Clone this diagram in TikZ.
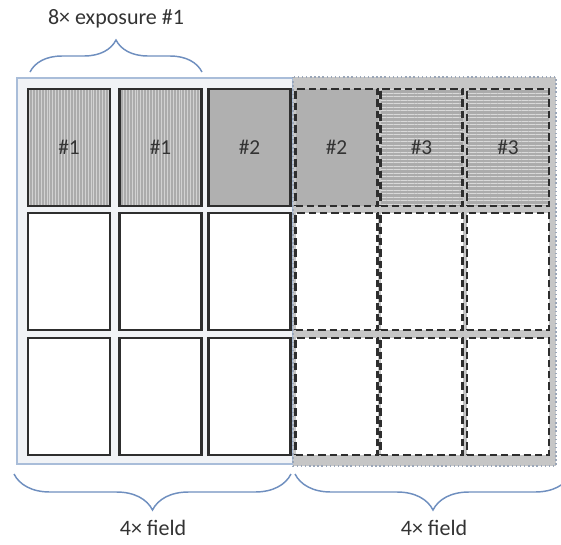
\documentclass[tikz,border=0pt]{standalone}
\usepackage{fontspec}
\setmainfont{Carlito}
\usetikzlibrary{patterns.meta,decorations.pathreplacing}
\definecolor{bracecol}{HTML}{6F8FBF}
\definecolor{fieldA}{HTML}{F1F3F6}
\definecolor{fieldAline}{HTML}{A9BDD9}
\definecolor{fieldB}{HTML}{C6C6C6}
\definecolor{fieldBline}{HTML}{9AA6B8}
\definecolor{cellline}{HTML}{2E2E2E}
\definecolor{txt}{HTML}{333333}
\tikzset{
  cell/.style={draw=cellline, line width=1.7pt, fill=white,
    minimum width=61.5pt, minimum height=87.75pt, inner sep=0pt,
    font=\fontsize{16}{18}\selectfont, text=txt},
  dcell/.style={cell, dash pattern=on 5.5pt off 3pt},
  expA/.style={preaction={fill=gray!66},
    pattern={Lines[angle=90,distance=2.2pt,line width=0.6pt]}, pattern color=gray!35},
  expB/.style={fill=gray!62},
  expC/.style={preaction={fill=gray!66},
    pattern={Lines[angle=0,distance=2.6pt,line width=0.7pt]}, pattern color=gray!30},
  brace/.style={draw=bracecol, line width=1.1pt,
    decorate, decoration={brace, amplitude=#1}},
  lbl/.style={font=\fontsize{16.5}{19}\selectfont, text=txt, inner sep=0pt}
}
\begin{document}
\begin{tikzpicture}[x=0.75pt,y=-0.75pt]
\useasboundingbox (0,0) rectangle (561,544);
% two fields
\draw[fill=fieldA, draw=fieldAline, line width=0.9pt] (17,78) rectangle (293,464);
\draw[fill=fieldB, draw=fieldBline, line width=1.1pt, dotted] (293,77) rectangle (556,466);
% cells of the left field
\foreach \c/\x in {1/69,2/160.5,3/249.5}
  \foreach \r/\y in {1/147.5,2/271.5,3/396.5}
    \node[cell] (c\r\c) at (\x,\y) {};
% cells of the right field
\foreach \c/\x in {4/336.5,5/421.5,6/508}
  \foreach \r/\y in {1/147.5,2/271.5,3/396.5}
    \node[dcell] (c\r\c) at (\x,\y) {};
% exposures
\node[cell, expA] at (c11) {\#1};
\node[cell, expA] at (c12) {\#1};
\node[cell, expB] at (c13) {\#2};
\node[dcell, expB] at (c14) {\#2};
\node[dcell, expC] at (c15) {\#3};
\node[dcell, expC] at (c16) {\#3};
% braces
\coordinate (t1) at (30,72);
\coordinate (t2) at (202,72);
\draw[brace=24pt] (t1) -- (t2);
\node[lbl] (top) at (116,19) {8× exposure \#1};
\coordinate (b1) at (291,474);
\coordinate (b2) at (14,474);
\draw[brace=27pt] (b1) -- (b2);
\node[lbl] (fl) at (153,528) {4× field};
\coordinate (b3) at (571,474);
\coordinate (b4) at (295,474);
\begin{scope}
\clip (0,0) rectangle (561,544);
\draw[brace=27pt] (b3) -- (b4);
\end{scope}
\node[lbl] (fr) at (434,528) {4× field};
\end{tikzpicture}
\end{document}
